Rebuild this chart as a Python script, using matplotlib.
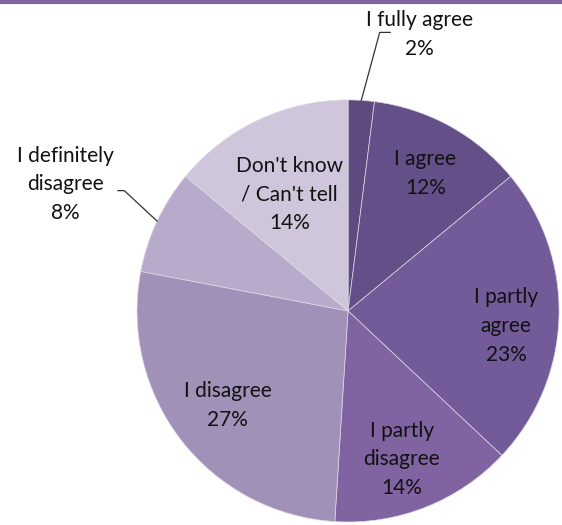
import numpy as np
import matplotlib
matplotlib.use("Agg")
import matplotlib.pyplot as plt
from matplotlib.lines import Line2D

plt.rcParams['font.family'] = ['Lato', 'DejaVu Sans']

# Datos
labels = ["I fully agree", "I agree", "I partly\nagree", "I partly\ndisagree",
          "I disagree", "I definitely\ndisagree", "Don't know\n/ Can't tell"]
values = [2, 12, 23, 14, 27, 8, 14]
colors = ["#5f4a7f", "#654f88", "#735b99", "#8064a2", "#a191b8", "#b8aacb", "#cfc6dc"]

# posicion de cada etiqueta (en radios del pastel)
label_pos = [(0.34, 1.31), (0.366, 0.652), (0.749, -0.070), (0.255, -0.703),
             (-0.571, -0.449), (-1.34, 0.60), (-0.278, 0.551)]
# slices con etiqueta fuera y linea guia: (codo, final)
leaders = {0: [(0.15, 1.32), (0.2, 1.32)], 5: [(-1.06, 0.57), (-1.09, 0.57)]}

fig = plt.figure(figsize=(5.62, 5.25), dpi=100)
ax = fig.add_axes([0.2438, 0.0057, 0.751, 0.804])

wedges, _ = ax.pie(values, colors=colors, startangle=90, counterclock=False,
                   radius=1, wedgeprops=dict(edgecolor="#ddd8e6", linewidth=0.5))
ax.set_xlim(-1, 1)
ax.set_ylim(-1, 1)
ax.set_aspect("equal")
ax.axis("off")

fs = 15
tc = "#111111"
ls = 1.55
for i, (w, lab, v, pos) in enumerate(zip(wedges, labels, values, label_pos)):
    ax.text(pos[0], pos[1], f"{lab}\n{v}%", ha="center", va="center",
            fontsize=fs, color=tc, linespacing=ls)
    if i in leaders:
        ang = np.deg2rad((w.theta1 + w.theta2) / 2)
        pts = [(np.cos(ang), np.sin(ang))] + leaders[i]
        xs, ys = zip(*pts)
        ax.plot(xs, ys, color="#333333", lw=0.9, clip_on=False)

# linea superior
fig.add_artist(Line2D([0, 1], [0.996, 0.996], transform=fig.transFigure,
                      color="#8064a2", lw=3))

fig.savefig("out.png", dpi=100)
